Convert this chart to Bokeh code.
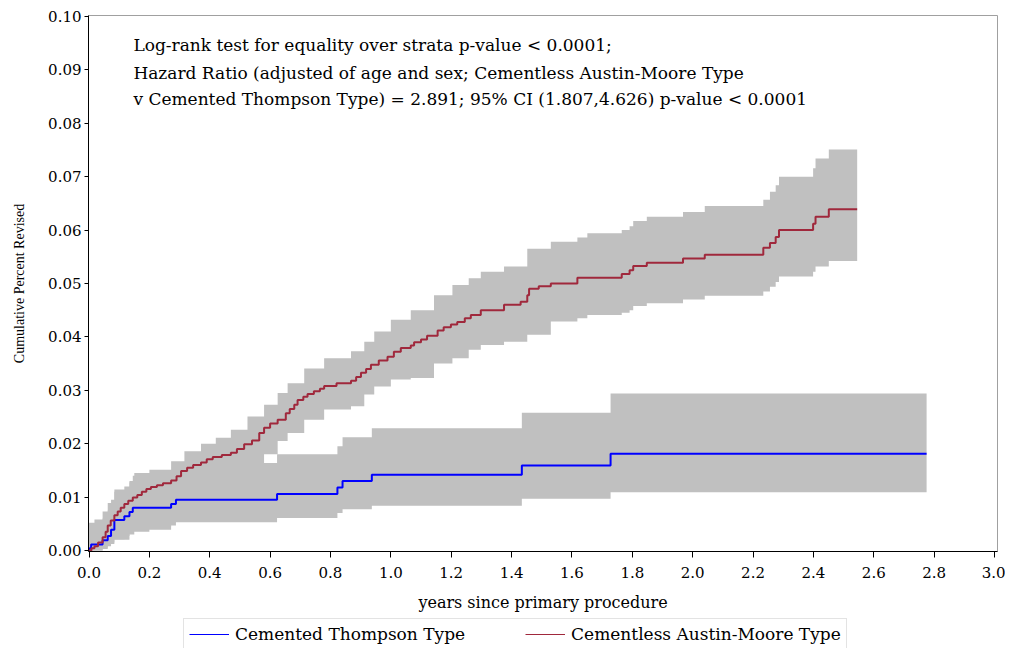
from bokeh.plotting import figure
from bokeh.layouts import column
from bokeh.models import Range1d, FixedTicker, NumeralTickFormatter, Legend, LegendItem
from bokeh.core.properties import value
from bokeh.embed import file_html
from bokeh.resources import INLINE

FONT = "DejaVu Serif"
YFONT = "Liberation Serif"

# Cementless Austin-Moore Type (red) - cumulative revision step curve
red_x = [0.0, 0.008, 0.018, 0.03, 0.045, 0.055, 0.062, 0.072, 0.084, 0.095, 0.105, 0.117,
         0.13, 0.145, 0.16, 0.175, 0.19, 0.205, 0.225, 0.245, 0.272, 0.29, 0.305, 0.325,
         0.345, 0.371, 0.39, 0.41, 0.44, 0.47, 0.49, 0.514, 0.54, 0.564, 0.58, 0.6, 0.625,
         0.652, 0.665, 0.68, 0.691, 0.71, 0.724, 0.745, 0.765, 0.779, 0.82, 0.868, 0.885,
         0.901, 0.918, 0.934, 0.96, 0.989, 1.01, 1.033, 1.066, 1.077, 1.1, 1.12, 1.155,
         1.175, 1.199, 1.22, 1.245, 1.265, 1.298, 1.375, 1.43, 1.452, 1.458, 1.49, 1.53,
         1.618, 1.765, 1.791, 1.803, 1.848, 1.968, 2.040, 2.234, 2.256, 2.275, 2.286,
         2.399, 2.407, 2.451, 2.545]
red_y = [0.0, 0.0004, 0.0008, 0.0015, 0.0025, 0.0035, 0.0047, 0.0056, 0.0066, 0.0073, 0.0080, 0.0087,
         0.0093, 0.0099, 0.0104, 0.0110, 0.0115, 0.0119, 0.0122, 0.0126, 0.0131, 0.0139, 0.0149, 0.0155,
         0.0160, 0.0165, 0.0171, 0.0175, 0.0179, 0.0183, 0.0190, 0.0199, 0.0206, 0.0220, 0.0230, 0.0238, 0.0245,
         0.0257, 0.0265, 0.0273, 0.0282, 0.0288, 0.0293, 0.0298, 0.0303, 0.0308, 0.0313, 0.0318, 0.0325,
         0.0333, 0.0340, 0.0348, 0.0356, 0.0363, 0.0372, 0.0379, 0.0384, 0.0390, 0.0395, 0.0402, 0.0412,
         0.0418, 0.0423, 0.0428, 0.0435, 0.0441, 0.0450, 0.0460, 0.0466, 0.0478, 0.0490, 0.0495, 0.0500,
         0.0511, 0.0518, 0.0525, 0.0533, 0.0539, 0.0547, 0.0554, 0.0567, 0.0576, 0.0587, 0.0600,
         0.0612, 0.0625, 0.0639, 0.0639]

# Red 95% confidence band
red_band_x = [0.0, 0.018, 0.045, 0.062, 0.084, 0.134, 0.15, 0.2, 0.272, 0.316, 0.371, 0.42,
              0.47, 0.525, 0.58, 0.625, 0.658, 0.713, 0.779, 0.868, 0.912, 0.945, 1.0, 1.066,
              1.143, 1.204, 1.258, 1.298, 1.375, 1.452, 1.53, 1.618, 1.651, 1.765, 1.791, 1.803,
              1.848, 1.968, 2.040, 2.234, 2.256, 2.275, 2.286, 2.399, 2.407, 2.451, 2.545]
red_upper = [0.0052, 0.0058, 0.0073, 0.0089, 0.0114, 0.0130, 0.0145, 0.0151, 0.0167, 0.0186, 0.0200, 0.0211,
             0.0226, 0.0251, 0.0273, 0.0295, 0.0313, 0.0341, 0.0360, 0.0373, 0.0391, 0.0410, 0.0432, 0.0450,
             0.0478, 0.0497, 0.0510, 0.0522, 0.0532, 0.0565, 0.0578, 0.0586, 0.0594, 0.0600, 0.0607, 0.0617,
             0.0625, 0.0634, 0.0645, 0.0657, 0.0672, 0.0684, 0.0700, 0.0716, 0.0734, 0.0751, 0.0751]
red_lower = [0.0, 0.0, 0.0005, 0.0012, 0.0020, 0.0030, 0.0035, 0.0045, 0.0065, 0.0080, 0.0095, 0.0110,
             0.0130, 0.0155, 0.0180, 0.0205, 0.0220, 0.0245, 0.0264, 0.0270, 0.0292, 0.0307, 0.0320, 0.0323,
             0.0350, 0.0360, 0.0376, 0.0385, 0.0391, 0.0404, 0.0429, 0.0435, 0.0441, 0.0445, 0.0450, 0.0458,
             0.0463, 0.0470, 0.0477, 0.0485, 0.0494, 0.0503, 0.0513, 0.0522, 0.0532, 0.0542, 0.0542]

# Cemented Thompson Type (blue)
blue_x = [0.0, 0.002, 0.007, 0.045, 0.062, 0.073, 0.084, 0.117, 0.134, 0.145, 0.272, 0.288,
          0.623, 0.823, 0.840, 0.937, 1.434, 1.728, 2.775]
blue_y = [0.0, 0.0004, 0.0011, 0.0019, 0.0027, 0.0039, 0.0057, 0.0064, 0.0072, 0.0080, 0.0087, 0.0095,
          0.0106, 0.0118, 0.0130, 0.0142, 0.0159, 0.0181, 0.0181]

blue_band_x = [0.0, 0.045, 0.062, 0.073, 0.084, 0.117, 0.134, 0.145, 0.272, 0.288, 0.623, 0.823,
               0.840, 0.937, 1.434, 1.728, 2.775]
blue_lower = [0.0, 0.0003, 0.0008, 0.0015, 0.0021, 0.0027, 0.0033, 0.0039, 0.0047, 0.0053, 0.0061, 0.0070,
              0.0077, 0.0084, 0.0097, 0.0109, 0.0109]
blue_upper = [0.0045, 0.0060, 0.0075, 0.0095, 0.0110, 0.0120, 0.0128, 0.0140, 0.0150, 0.0164, 0.0180, 0.0195,
              0.0212, 0.0229, 0.0258, 0.0294, 0.0294]

x_ticks = [0.0, 0.2, 0.4, 0.6, 0.8, 1.0, 1.2, 1.4, 1.6, 1.8, 2.0, 2.2, 2.4, 2.6, 2.8, 3.0]
y_ticks = [0.00, 0.01, 0.02, 0.03, 0.04, 0.05, 0.06, 0.07, 0.08, 0.09, 0.10]

note_lines = [
    "Log-rank test for equality over strata p-value < 0.0001;",
    "Hazard Ratio (adjusted of age and sex; Cementless Austin-Moore Type",
    "v Cemented Thompson Type) = 2.891; 95% CI (1.807,4.626) p-value < 0.0001",
]
note_x = [0.147, 0.147, 0.147]
note_y = [0.0946, 0.0895, 0.0845]

legend_labels = ["Cemented Thompson Type", "Cementless Austin-Moore Type"]

RED = "#A0283C"
BLUE = "#0000FF"
GRAY = "#C0C0C0"

# ---------------- main chart ----------------
fig = figure(width=1005, height=614, output_backend="svg", toolbar_location=None,
             x_range=Range1d(-0.0017, 3.0099), y_range=Range1d(-0.00019, 0.10019),
             min_border_left=88, min_border_right=8, min_border_top=15, min_border_bottom=62)
fig.xgrid.visible = False
fig.ygrid.visible = False
fig.outline_line_color = "#A0A0A0"
fig.outline_line_width = 1

fig.varea_step(x=red_band_x, y1=red_lower, y2=red_upper, step_mode="after", fill_color=GRAY, fill_alpha=1.0)
fig.varea_step(x=blue_band_x, y1=blue_lower, y2=blue_upper, step_mode="after", fill_color=GRAY, fill_alpha=1.0)
fig.step(x=blue_x, y=blue_y, mode="after", line_color=BLUE, line_width=2)
fig.step(x=red_x, y=red_y, mode="after", line_color=RED, line_width=2)

fig.text(x=note_x, y=note_y, text=note_lines, text_font=value(FONT), text_font_size="17px",
         text_baseline="middle", text_align="left", text_color="black")

for ax in (fig.xaxis[0], fig.yaxis[0]):
    ax.axis_line_color = "black"
    ax.major_tick_line_color = "black"
    ax.minor_tick_line_color = None
    ax.major_tick_in = 0
    ax.major_label_text_font = FONT
    ax.major_label_text_font_size = "15px"
    ax.major_label_text_color = "black"
    ax.axis_label_text_font_style = "normal"
    ax.axis_label_text_color = "black"

fig.xaxis.major_tick_out = 6
fig.yaxis.major_tick_out = 4
fig.xaxis.ticker = FixedTicker(ticks=x_ticks)
fig.yaxis.ticker = FixedTicker(ticks=y_ticks)
fig.xaxis.formatter = NumeralTickFormatter(format="0.0")
fig.yaxis.formatter = NumeralTickFormatter(format="0.00")
fig.xaxis.axis_label = "years since primary procedure"
fig.yaxis.axis_label = "Cumulative Percent Revised"
fig.xaxis.axis_label_text_font = FONT
fig.yaxis.axis_label_text_font = YFONT
fig.xaxis.axis_label_text_font_size = "16px"
fig.yaxis.axis_label_text_font_size = "14px"
fig.xaxis.major_label_standoff = 9
fig.yaxis.major_label_standoff = 3
fig.xaxis.axis_label_standoff = 12
fig.yaxis.axis_label_standoff = 18

# ---------------- legend strip ----------------
lf = figure(width=1005, height=34, output_backend="svg", toolbar_location=None,
            x_range=Range1d(10, 11), y_range=Range1d(10, 11),
            x_axis_type=None, y_axis_type=None,
            min_border_left=0, min_border_right=0, min_border_top=0, min_border_bottom=0)
lf.xgrid.visible = False
lf.ygrid.visible = False
lf.outline_line_color = None
key_blue = lf.step(x=blue_x, y=blue_y, mode="after", line_color=BLUE, line_width=1)
key_red = lf.step(x=red_x, y=red_y, mode="after", line_color=RED, line_width=1)
legend = Legend(items=[LegendItem(label=legend_labels[0], renderers=[key_blue]),
                       LegendItem(label=legend_labels[1], renderers=[key_red])],
                orientation="horizontal", location=(95, -2),
                label_text_font=FONT, label_text_font_size="17px", label_text_color="black",
                glyph_width=40, glyph_height=20, label_standoff=6, spacing=60,
                padding=5, margin=0, border_line_color="#C8C8C8", background_fill_alpha=1.0)
lf.add_layout(legend)

p = column(fig, lf, spacing=0)

open("out.html", "w").write(file_html(p, INLINE))
